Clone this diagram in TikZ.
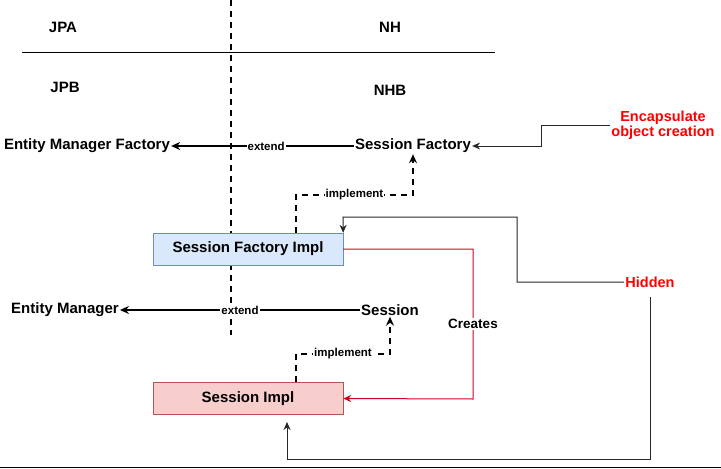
\documentclass[tikz,border=0pt]{standalone}
\usepackage{fontspec}
\setmainfont{Liberation Sans}
\usetikzlibrary{arrows.meta}
\definecolor{hred}{HTML}{FF0000}
\definecolor{bfill}{HTML}{DAE8FC}
\definecolor{bdraw}{HTML}{6C8EBF}
\definecolor{rfill}{HTML}{F8CECC}
\definecolor{rdraw}{HTML}{B85450}
\definecolor{cred}{HTML}{D0021B}
\tikzset{
  lbl/.style={font=\bfseries\fontsize{15}{18}\selectfont, inner sep=1pt},
  small/.style={font=\bfseries\fontsize{11.5}{13}\selectfont, fill=white, inner sep=1pt},
  note/.style={font=\bfseries\fontsize{14.5}{16}\selectfont, text=hred, align=center, inner sep=1pt},
  box/.style={draw, minimum width=190pt, minimum height=32pt, font=\bfseries\fontsize{15}{18}\selectfont},
  ext/.style={-{Stealth[length=9pt,width=8pt]}, line width=1.3pt},
  impl/.style={-{Stealth[length=9pt,width=8pt]}, line width=1.3pt, dash pattern=on 6pt off 5pt},
  conn/.style={-{Stealth[length=8pt,width=7pt]}, line width=1pt, draw=black!85},
}
\begin{document}
\begin{tikzpicture}[x=1pt,y=-1pt]
\useasboundingbox (0,0) rectangle (721,469);
% dividers
\draw[line width=1.3pt, dash pattern=on 6pt off 5pt] (231,0) -- (231,335);
\draw[line width=0.9pt] (22,52) -- (495,52);
\draw[line width=1.2pt] (0,467.5) -- (721,467.5);

\node[lbl] (jpa) at (63,27) {JPA};
\node[lbl] (nh) at (390,27) {NH};
\node[lbl] (jpb) at (65,87) {JPB};
\node[lbl] (nhb) at (390,90) {NHB};

\node[lbl] (emf) at (87,146) {Entity Manager Factory};
\node[lbl] (sf) at (413,146) {Session Factory};
\node[lbl] (em) at (65,310) {Entity Manager};
\node[lbl] (s) at (390,310) {Session};

\node[box, fill=bfill, draw=bdraw] (sfi) at (248,249) {Session Factory Impl};
\node[box, fill=rfill, draw=rdraw] (si) at (248,398.5) {Session Impl};

\node[note] (enc) at (663,125) {Encapsulate\\[-1pt]object creation};
\node[note] (hid) at (650,282) {Hidden};

% extend
\draw[ext] (sf.west) -- node[small, pos=0.48]{extend} (emf.east);
\draw[ext] (s.west) -- node[small, pos=0.5]{extend} (em.east);

% implement
\coordinate (a1) at (296,195);
\coordinate (a2) at (413,195);
\draw[impl] (sfi.north -| a1) -- (a1) -- node[small, pos=0.5]{implement} (a2) -- (sf.south);
\coordinate (b1) at (296,354);
\coordinate (b2) at (390,354);
\draw[impl] (si.north -| b1) -- (b1) -- node[small, pos=0.5]{implement} (b2) -- (s.south);

% encapsulate
\draw[conn] (enc.west |- 0,125) -- (541,125) -- (541,146) -- (sf.east);
% hidden
\draw[conn] (hid.west) -- (517,282) -- (517,217) -- (343,217) -- (sfi.north east);
\draw[conn] (650,297) -- (650,459) -- (287,459) -- (287,422);
% creates
\draw[-{Stealth[length=8pt,width=7pt]}, line width=1pt, draw=cred] (sfi.east) -- (473,249) -- node[small, text=black, pos=0.5]{\fontsize{13.5}{15}\selectfont Creates} (473,399) -- (si.east);
\end{tikzpicture}
\end{document}
